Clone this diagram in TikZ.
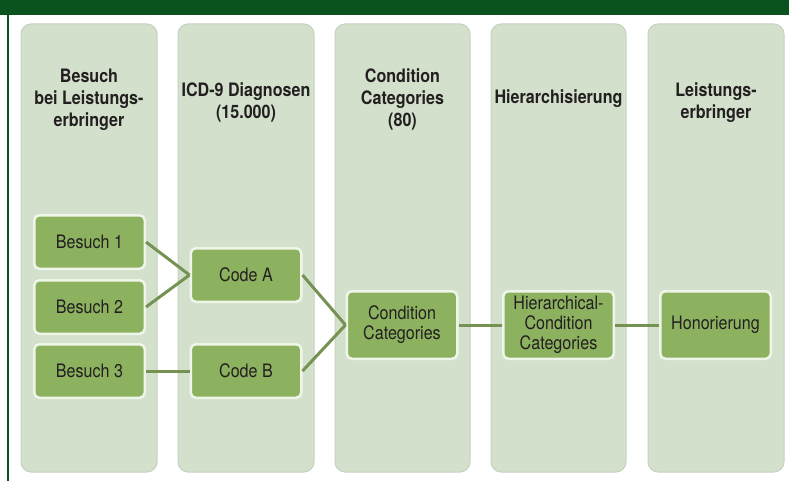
\documentclass[tikz,border=0pt]{standalone}
\usepackage{fontspec}
\setmainfont{TeX Gyre Heros}
\newfontfamily\narrowfont[FakeStretch=0.87]{TeX Gyre Heros}
\definecolor{banner}{RGB}{11,83,30}
\definecolor{colfill}{RGB}{211,225,204}
\definecolor{coledge}{RGB}{198,210,190}
\definecolor{boxfill}{RGB}{140,178,96}
\definecolor{boxedge}{RGB}{240,245,234}
\definecolor{lineg}{RGB}{118,146,82}
\definecolor{txt}{RGB}{35,31,32}
\tikzset{
  column/.style={fill=colfill, draw=coledge, line width=1pt, rounded corners=10pt},
  head/.style={align=center, text=txt, font=\narrowfont\fontsize{18.5}{22}\selectfont\bfseries},
  gbox/.style={fill=boxfill, draw=boxedge, line width=2.5pt, rounded corners=5pt,
    minimum width=110.5pt, minimum height=53.5pt, align=center, text=txt,
    font=\narrowfont\fontsize{18.5}{20}\selectfont, inner sep=1pt},
  tallbox/.style={gbox, minimum height=67.5pt},
  conn/.style={draw=lineg, line width=3pt}
}
\begin{document}
\begin{tikzpicture}[x=1pt,y=-1pt]
\useasboundingbox (0,0) rectangle (789,481);
\fill[white] (0,0) rectangle (789,481);
% banner and left rule
\fill[banner] (0,0) rectangle (789,15);
\fill[banner] (6.5,0) rectangle (8.5,481);
% columns
\path[column] (21,24) rectangle (157,472);
\path[column] (178,24) rectangle (314,472);
\path[column] (335,24) rectangle (470,472);
\path[column] (491,24) rectangle (626,472);
\path[column] (648,24) rectangle (784,472);
% headers
\node[head] (h1) at (89,100) {Besuch\\bei Leistungs-\\erbringer};
\node[head] (h2) at (246,102) {ICD-9 Diagnosen\\(15.000)};
\node[head] (h3) at (402.5,99) {Condition\\Categories\\(80)};
\node[head] (h4) at (558.5,99) {Hierarchisierung};
\node[head] (h5) at (716,103) {Leistungs-\\erbringer};
% boxes
\node[gbox] (b1) at (89.5,242) {Besuch 1};
\node[gbox] (b2) at (89.5,307) {Besuch 2};
\node[gbox] (b3) at (89.5,371) {Besuch 3};
\node[gbox] (ca) at (246,275) {Code A};
\node[gbox] (cb) at (246,371) {Code B};
\node[tallbox] (cc) at (402,325) {Condition\\Categories};
\node[tallbox] (hc) at (558.5,325) {Hierarchical-\\Condition\\Categories};
\node[tallbox] (ho) at (715.5,325) {Honorierung};
% connectors
\draw[conn] (b1.east) -- (ca.west);
\draw[conn] (b2.east) -- (ca.west);
\draw[conn] (b3.east) -- (cb.west);
\draw[conn] (ca.east) -- (cc.west);
\draw[conn] (cb.east) -- (cc.west);
\draw[conn] (cc.east) -- (hc.west);
\draw[conn] (hc.east) -- (ho.west);
\end{tikzpicture}
\end{document}
